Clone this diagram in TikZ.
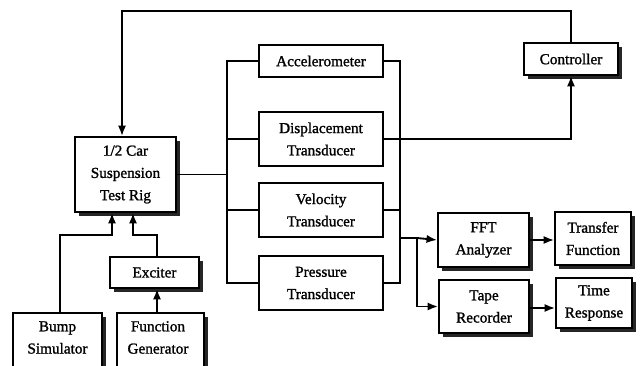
\documentclass[tikz,border=0pt]{standalone}
\usepackage{fontspec}
\setmainfont{Liberation Serif}[BoldFont={Liberation Serif}, BoldFeatures={FakeBold=1.3}]
\usetikzlibrary{arrows.meta,shadows}
\begin{document}
\begin{tikzpicture}[x=0.03cm,y=-0.03cm,
  lw/.style={line width=1.6pt},
  box/.style={draw, lw, fill=white, inner sep=0pt, align=center,
    font=\fontsize{13}{19}\selectfont\bfseries},
  shd/.style={drop shadow={shadow xshift=3.5pt, shadow yshift=-3.5pt, fill=black!85, opacity=1}},
  lbl/.style={inner sep=0pt, align=center, font=\fontsize{13}{19}\selectfont\bfseries},
  wire/.style={lw},
  arr/.style={lw, -{Latex[length=9pt,width=7pt]}}]
\useasboundingbox (0,0) rectangle (641,366);
\clip (0,0) rectangle (641,366);
% boxes
\node[box, shd, minimum width=101*0.03cm, minimum height=75*0.03cm] (rig) at (125.5,174.5) {1/2 Car\\Suspension\\Test Rig};
\node[box, minimum width=124*0.03cm, minimum height=32*0.03cm] (acc) at (321,61) {Accelerometer};
\node[box, minimum width=124*0.03cm, minimum height=54*0.03cm] (disp) at (321,139) {Displacement\\Transducer};
\node[box, minimum width=124*0.03cm, minimum height=54*0.03cm] (vel) at (321,210) {Velocity\\Transducer};
\node[box, minimum width=124*0.03cm, minimum height=54*0.03cm] (pres) at (321,283) {Pressure\\Transducer};
\node[box, shd, minimum width=94*0.03cm, minimum height=32*0.03cm] (ctrl) at (571,59) {Controller};
\node[box, shd, minimum width=91*0.03cm, minimum height=54*0.03cm] (fft) at (483.5,240) {FFT\\Analyzer};
\node[box, shd, minimum width=90*0.03cm, minimum height=53*0.03cm] (tape) at (484,306.5) {Tape\\Recorder};
\node[box, shd, minimum width=76*0.03cm, minimum height=53*0.03cm] (tf) at (593,238.5) {Transfer\\Function};
\node[box, shd, minimum width=76*0.03cm, minimum height=50*0.03cm] (tr) at (594,303) {Time\\Response};
\node[box, shd, minimum width=89*0.03cm, minimum height=31*0.03cm] (exc) at (154.5,272.5) {Exciter};
\node[box, shd, minimum width=89*0.03cm, minimum height=62*0.03cm] (bump) at (57.5,344) {};
\node[lbl] (bumpt) at (57.5,337.5) {Bump\\Simulator};
\node[box, shd, minimum width=87*0.03cm, minimum height=62*0.03cm] (fg) at (160.5,344) {};
\node[lbl] (fgt) at (158,337.5) {Function\\Generator};
% coordinates
\coordinate (top) at (122,11);
\coordinate (lb) at (227,0);
\coordinate (rb) at (400,0);
\coordinate (sp) at (417,0);
\coordinate (sj) at (0,238);
\coordinate (bj) at (0,235);
% feedback loop
\draw[arr] (ctrl.north) |- (top) -- (top |- rig.north);
\draw[arr] (disp.east) -| (ctrl.south);
% left bus
\draw[wire] (rig.east) -- (rig.east -| lb);
\draw[wire] (acc.west) -- (acc.west -| lb) -- (pres.west -| lb) -- (pres.west);
\draw[wire] (disp.west) -- (disp.west -| lb);
\draw[wire] (vel.west) -- (vel.west -| lb);
% right bus
\draw[wire] (acc.east) -- (acc.east -| rb) -- (pres.east -| rb) -- (pres.east);
\draw[wire] (vel.east) -- (vel.east -| rb);
\draw[arr] (sj -| rb) -- (sj -| sp) -- (fft.west);
\draw[arr] (sj -| sp) |- (tape.west);
\draw[arr] (fft.east) -- (fft.east -| tf.west);
\draw[arr] (tape.east |- 0,308) -- (tr.west |- 0,308);
% inputs to rig
\draw[arr] (bump.north -| 60,0) |- (bj -| 112,0) -- (rig.south -| 112,0);
\draw[arr] (exc.north -| 157,0) |- (bj -| 133,0) -- (rig.south -| 133,0);
\draw[arr] (fg.north -| 157,0) -- (exc.south -| 157,0);
\end{tikzpicture}
\end{document}
